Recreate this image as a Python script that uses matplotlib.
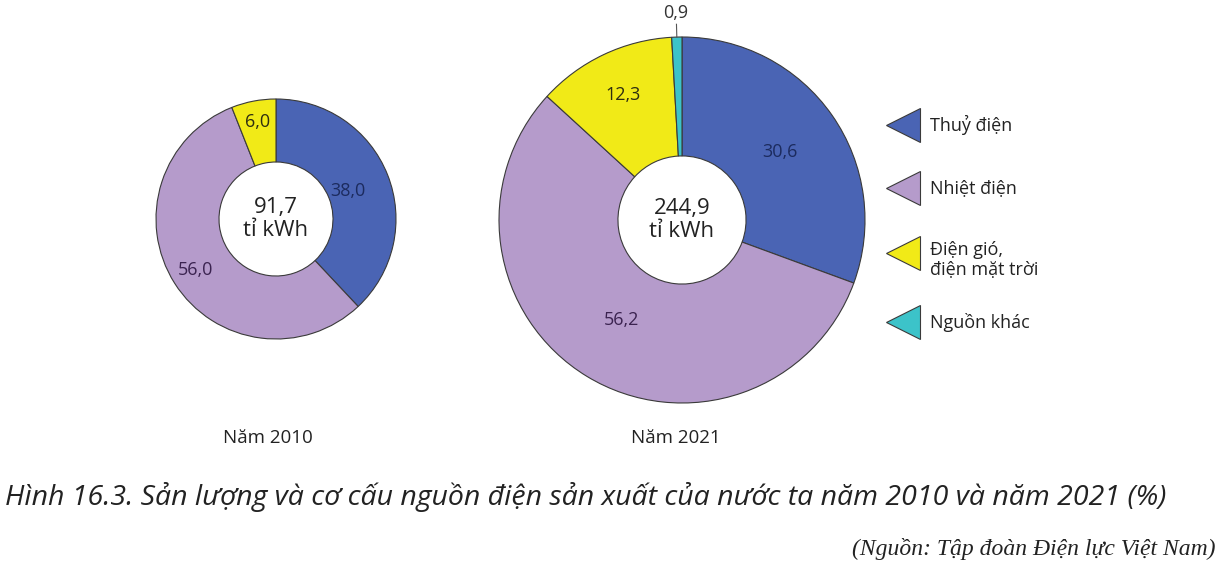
import matplotlib.pyplot as plt
from matplotlib.lines import Line2D
import numpy as np

# dữ liệu
nguon = ['Thuỷ điện', 'Nhiệt điện', 'Điện gió,\nđiện mặt trời', 'Nguồn khác']
mau = ['#4a64b4', '#b59bcb', '#f1ea17', '#3cc3c9']
nam2010 = [38.0, 56.0, 6.0]
nam2021 = [30.6, 56.2, 12.3, 0.9]
tong2010 = '91,7'
tong2021 = '244,9'

W, H = 1221, 572
fig = plt.figure(figsize=(W / 100, H / 100), dpi=100)
fig.patch.set_facecolor('white')
sans = ['Open Sans', 'DejaVu Sans']
mau_chu = ['#1c2b5e', '#3b2350', '#2e2e10', '#333333']


def px(x, y):
    return x / W, 1 - y / H


def ve_donut(cx, cy, r, lo, giatri, tong, rnhan):
    ax = fig.add_axes([(cx - r) / W, (H - cy - r) / H, 2 * r / W, 2 * r / H])
    ax.pie(giatri, colors=mau[:len(giatri)], startangle=90, counterclock=False,
           radius=1, wedgeprops=dict(width=1 - lo, edgecolor='#3a3a3a', linewidth=0.8))
    ax.set_xlim(-1, 1)
    ax.set_ylim(-1, 1)
    ax.set_aspect('equal')
    ax.axis('off')
    goc = 90 - (np.cumsum(giatri) - np.array(giatri) / 2) * 3.6
    for i, v in enumerate(giatri):
        a = np.deg2rad(goc[i])
        nhan = ('%.1f' % v).replace('.', ',')
        ax.text(rnhan[i] * np.cos(a), rnhan[i] * np.sin(a), nhan, ha='center', va='center',
                fontsize=13, color=mau_chu[i], family=sans, clip_on=False)
        if rnhan[i] > 1:
            ax.plot([np.cos(a), 1.07 * np.cos(a)], [np.sin(a), 1.07 * np.sin(a)],
                    color='#555555', lw=0.8, clip_on=False)
    ax.text(0, 0, tong + '\ntỉ kWh', ha='center', va='center', fontsize=16,
            color='#222222', family=sans, linespacing=1.15)
    return ax


ve_donut(276, 219, 120, 0.475, nam2010, tong2010, [0.64, 0.79, 0.82])
ve_donut(682, 220, 183, 0.35, nam2021, tong2021, [0.65, 0.64, 0.755, 1.13])

fig.text(*px(268, 438), 'Năm 2010', ha='center', va='center', fontsize=13.5, family=sans, color='#222222')
fig.text(*px(676, 438), 'Năm 2021', ha='center', va='center', fontsize=13.5, family=sans, color='#222222')

# chú giải
hang_y = [125, 188, 260, 322]
tam_y = [125, 188, 253, 322]
for i in range(4):
    x, y = px(903, tam_y[i])
    fig.add_artist(Line2D([x], [y], marker='<', markersize=25, markerfacecolor=mau[i],
                          markeredgecolor='#3a3a3a', markeredgewidth=0.8, linestyle='none',
                          transform=fig.transFigure))
    fig.text(*px(930, hang_y[i]), nguon[i], ha='left', va='center', fontsize=13,
             family=sans, color='#222222', linespacing=1.2)

fig.text(*px(5, 497), 'Hình 16.3. Sản lượng và cơ cấu nguồn điện sản xuất của nước ta năm 2010 và năm 2021 (%)',
         ha='left', va='center', fontsize=20.5, style='italic', family=sans, color='#222222')
fig.text(*px(1215, 549), '(Nguồn: Tập đoàn Điện lực Việt Nam)', ha='right', va='center',
         fontsize=17, style='italic', family=['Liberation Serif', 'DejaVu Serif'], color='#222222')

fig.savefig('out.png', dpi=100)
